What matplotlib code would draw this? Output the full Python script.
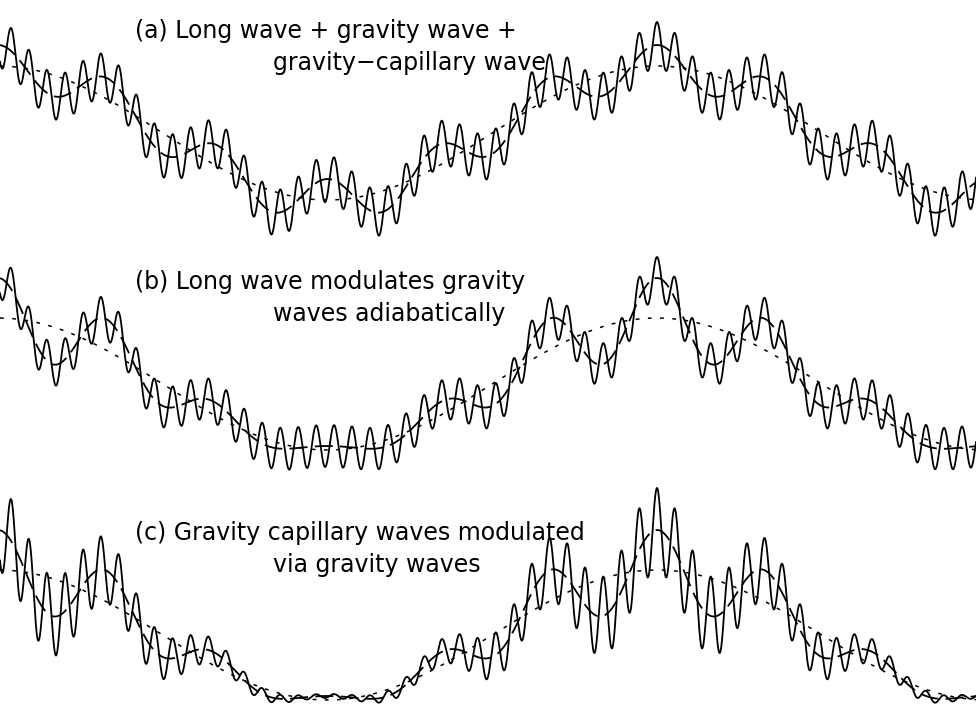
"""
Sketch of wave modulation: long wave + gravity wave + gravity-capillary wave,
three panels (a) no modulation, (b) adiabatic gravity-wave modulation,
(c) capillary waves modulated as well.
"""

import numpy as np
import matplotlib.pyplot as plt

# wave parameters (horizontal distance in plot units, x from 0 to 976)
wavelengths = [659.0, 109.8, 17.94]     # long, gravity, capillary
crest_x = 657.0                          # common crest location

# amplitudes per panel (a, b, c)
long_amp = [67, 66, 65]
# gravity amplitude = mean + swing * cos(long phase)
grav_mean = [21, 22, 22]
grav_swing = [0, 18, 18]
# capillary amplitude = mean + swing * cos(long phase)
cap_mean = [23, 21, 22]
cap_swing = [0, 0, 20]

labels = [
    ("(a) Long wave + gravity wave +", "gravity\u2212capillary wave"),
    ("(b) Long wave modulates gravity", "waves adiabatically"),
    ("(c) Gravity capillary waves modulated", "via gravity waves"),
]

# vertical placement of each panel (mean level, plot units, downward)
panel_mid = [133, 384, 635]

x = np.linspace(0, 976, 4000)

fig = plt.figure(figsize=(9.76, 7.04), dpi=100)
ax = fig.add_axes([0, 0, 1, 1])
ax.set_xlim(0, 976)
ax.set_ylim(704, 0)
ax.axis('off')

kL, kG, kC = [2 * np.pi / w for w in wavelengths]
th_long = kL * (x - crest_x)

for i in range(3):
    eta_long = long_amp[i] * np.cos(th_long)
    ag = grav_mean[i] + grav_swing[i] * np.cos(th_long)
    eta_grav = eta_long + ag * np.cos(kG * (x - crest_x))
    ac = cap_mean[i] + cap_swing[i] * np.cos(th_long)
    eta_total = eta_grav + ac * np.cos(kC * (x - crest_x))

    mid = panel_mid[i]
    ax.plot(x, mid - eta_long, color='black', lw=1.1, dashes=(2.5, 5.5))
    ax.plot(x, mid - eta_grav, color='black', lw=1.3, dashes=(10, 4))
    ax.plot(x, mid - eta_total, color='black', lw=1.3)

    line1, line2 = labels[i]
    ax.text(135, mid - 95, line1, fontsize=17, color='black',
            ha='left', va='baseline')
    ax.text(273, mid - 63, line2, fontsize=17, color='black',
            ha='left', va='baseline')

fig.savefig("out.png", dpi=100, facecolor='white')
